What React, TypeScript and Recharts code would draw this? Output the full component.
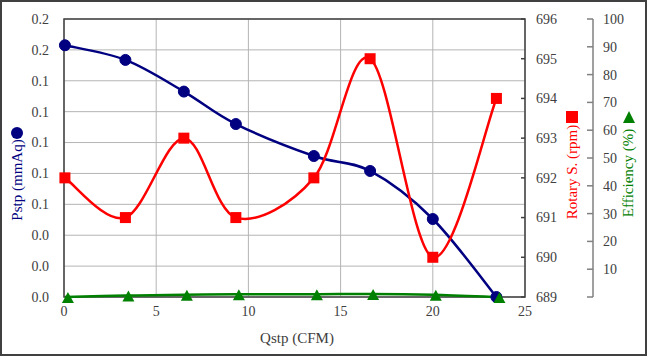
import React from 'react';
import { ComposedChart, Line, XAxis, YAxis, CartesianGrid, ReferenceArea } from 'recharts';

const qstp = [0.05, 3.33, 6.5, 9.32, 13.55, 16.6, 20.0, 23.45];
const pstp = [0.163, 0.1535, 0.133, 0.112, 0.0913, 0.0816, 0.0505, 0];
const rotary = [692, 691, 693, 691, 692, 695, 690, 694];
const efficiency = [0, 0.5, 0.8, 1.0, 1.0, 1.1, 0.8, 0];

const xTicks = [0, 5, 10, 15, 20, 25];
const pstpTicks = [0, 0.02, 0.04, 0.06, 0.08, 0.1, 0.12, 0.14, 0.16, 0.18];
const rpmTicks = [689, 690, 691, 692, 693, 694, 695, 696];
const effTicks = [0, 10, 20, 30, 40, 50, 60, 70, 80, 90, 100];

const data = qstp.map((q, i) => ({ q, p: pstp[i], rpm: rotary[i], eff: efficiency[i] }));

const FONT = "'Liberation Serif', 'DejaVu Serif', serif";
const TS = { fontFamily: FONT, fontSize: 14 };
const LS = { fontFamily: FONT, fontSize: 15 };
const TICK = '#404040';
const NAVY = '#000080';
const RED = '#FF0000';
const GREEN = '#008000';

const smooth = (context: any) => {
  let pts: [number, number][] = [];
  return {
    areaStart() {},
    areaEnd() {},
    lineStart() { pts = []; },
    lineEnd() {
      if (!pts.length) return;
      context.moveTo(pts[0][0], pts[0][1]);
      for (let i = 0; i < pts.length - 1; i++) {
        const p0 = pts[i - 1] || pts[i];
        const p1 = pts[i];
        const p2 = pts[i + 1];
        const p3 = pts[i + 2] || p2;
        context.bezierCurveTo(
          p1[0] + (p2[0] - p0[0]) / 6, p1[1] + (p2[1] - p0[1]) / 6,
          p2[0] - (p3[0] - p1[0]) / 6, p2[1] - (p3[1] - p1[1]) / 6,
          p2[0], p2[1]
        );
      }
    },
    point(x: number, y: number) { pts.push([+x, +y]); },
  };
};

const circleDot = (props: any) => (
  <circle key={`c${props.index}`} cx={props.cx} cy={props.cy} r={5.5} fill={NAVY} stroke={NAVY} />
);
const squareDot = (props: any) => (
  <rect key={`s${props.index}`} x={props.cx - 5.5} y={props.cy - 5.5} width={11} height={11} fill={RED} />
);
const triDot = (props: any) => {
  const x = props.cx + 3;
  const y = props.cy + 1;
  return (
    <polygon key={`t${props.index}`} points={`${x},${y - 6} ${x + 6},${y + 5} ${x - 6},${y + 5}`} fill={GREEN} />
  );
};

const XTick = (props: any) => (
  <text x={props.x} y={props.y} dy="0.75em" textAnchor="middle" style={TS} fill={TICK}>
    {props.payload.value}
  </text>
);
const PTick = (props: any) => (
  <text x={props.x} y={props.y} dy="0.35em" textAnchor="end" style={TS} fill={TICK}>
    {Number(props.payload.value).toFixed(1)}
  </text>
);
const RpmTick = (props: any) => {
  const ax = props.x - 11;
  return (
    <g>
      <line x1={ax - 4} x2={ax} y1={props.y} y2={props.y} stroke="#404040" strokeWidth={1.5} />
      <text x={props.x} y={props.y} dy="0.35em" textAnchor="start" style={TS} fill={TICK}>
        {props.payload.value}
      </text>
    </g>
  );
};
const EffTick = (props: any) => {
  const { x, y, payload } = props;
  const ax = x - 10;
  return (
    <g>
      <line x1={ax - 6} x2={ax} y1={y} y2={y} stroke="#808080" strokeWidth={1.5} />
      {payload.value !== 0 && (
        <text x={x} y={y} dy="0.35em" textAnchor="start" style={TS} fill={TICK}>
          {payload.value}
        </text>
      )}
    </g>
  );
};

const Labels = () => (
  <g>
    <circle cx={17} cy={133} r={6} fill={NAVY} />
    <text x={17} y={180} transform="rotate(-90 17 180)" textAnchor="middle" dominantBaseline="central" style={LS} fill={NAVY}>
      Pstp (mmAq)
    </text>
    <rect x={566} y={111} width={12} height={12} fill={RED} />
    <text x={572} y={172} transform="rotate(-90 572 172)" textAnchor="middle" dominantBaseline="central" style={LS} fill={RED}>
      Rotary S. (rpm)
    </text>
    <polygon points="629,111 635,123 623,123" fill={GREEN} />
    <text x={628} y={173} transform="rotate(-90 628 173)" textAnchor="middle" dominantBaseline="central" style={LS} fill={GREEN}>
      Efficiency (%)
    </text>
    <text x={297} y={338} textAnchor="middle" dominantBaseline="central" style={LS} fill={TICK}>
      Qstp (CFM)
    </text>
  </g>
);

export default function App() {
  return (
    <div style={{ position: 'absolute', left: 0, top: 0, width: 647, height: 356, background: '#fff' }}>
      <ComposedChart width={647} height={356} data={data} margin={{ top: 19, right: 0, bottom: 0, left: 0 }}>
        <CartesianGrid yAxisId="p" stroke="#b4b4b4" strokeWidth={1} horizontalValues={pstpTicks} verticalValues={xTicks} />
        <XAxis
          dataKey="q"
          type="number"
          domain={[0, 25]}
          ticks={xTicks}
          height={59}
          axisLine={false}
          tickLine={false}
          tickSize={0}
          tickMargin={8}
          tick={<XTick />}
        />
        <YAxis
          yAxisId="p"
          domain={[0, 0.18]}
          ticks={pstpTicks}
          width={64}
          axisLine={false}
          tickLine={false}
          tickSize={0}
          tickMargin={15}
          tick={<PTick />}
          interval={0}
        />
        <YAxis
          yAxisId="r1"
          orientation="right"
          domain={[689, 696]}
          ticks={rpmTicks}
          width={68}
          axisLine={false}
          tickLine={false}
          tickSize={0}
          tickMargin={11}
          tick={<RpmTick />}
          interval={0}
        />
        <YAxis
          yAxisId="r2"
          orientation="right"
          domain={[0, 100]}
          ticks={effTicks}
          width={54}
          axisLine={{ stroke: '#808080', strokeWidth: 1.5 }}
          tickLine={false}
          tickSize={0}
          tickMargin={10}
          tick={<EffTick />}
          interval={0}
        />
        <ReferenceArea yAxisId="p" x1={0} x2={25} y1={0} y2={0.18} fill="none" stroke="#404040" strokeWidth={1.5} ifOverflow="visible" />
        <Line yAxisId="p" dataKey="p" type={smooth as any} stroke={NAVY} strokeWidth={2.5} dot={circleDot} isAnimationActive={false} />
        <Line yAxisId="r1" dataKey="rpm" type={smooth as any} stroke={RED} strokeWidth={2.5} dot={squareDot} isAnimationActive={false} />
        <Line yAxisId="r2" dataKey="eff" type={smooth as any} stroke={GREEN} strokeWidth={2.5} dot={triDot} isAnimationActive={false} />
        <Labels />
      </ComposedChart>
      <div style={{ position: 'absolute', inset: 0, border: '2px solid #404040', boxSizing: 'border-box', pointerEvents: 'none' }} />
    </div>
  );
}
